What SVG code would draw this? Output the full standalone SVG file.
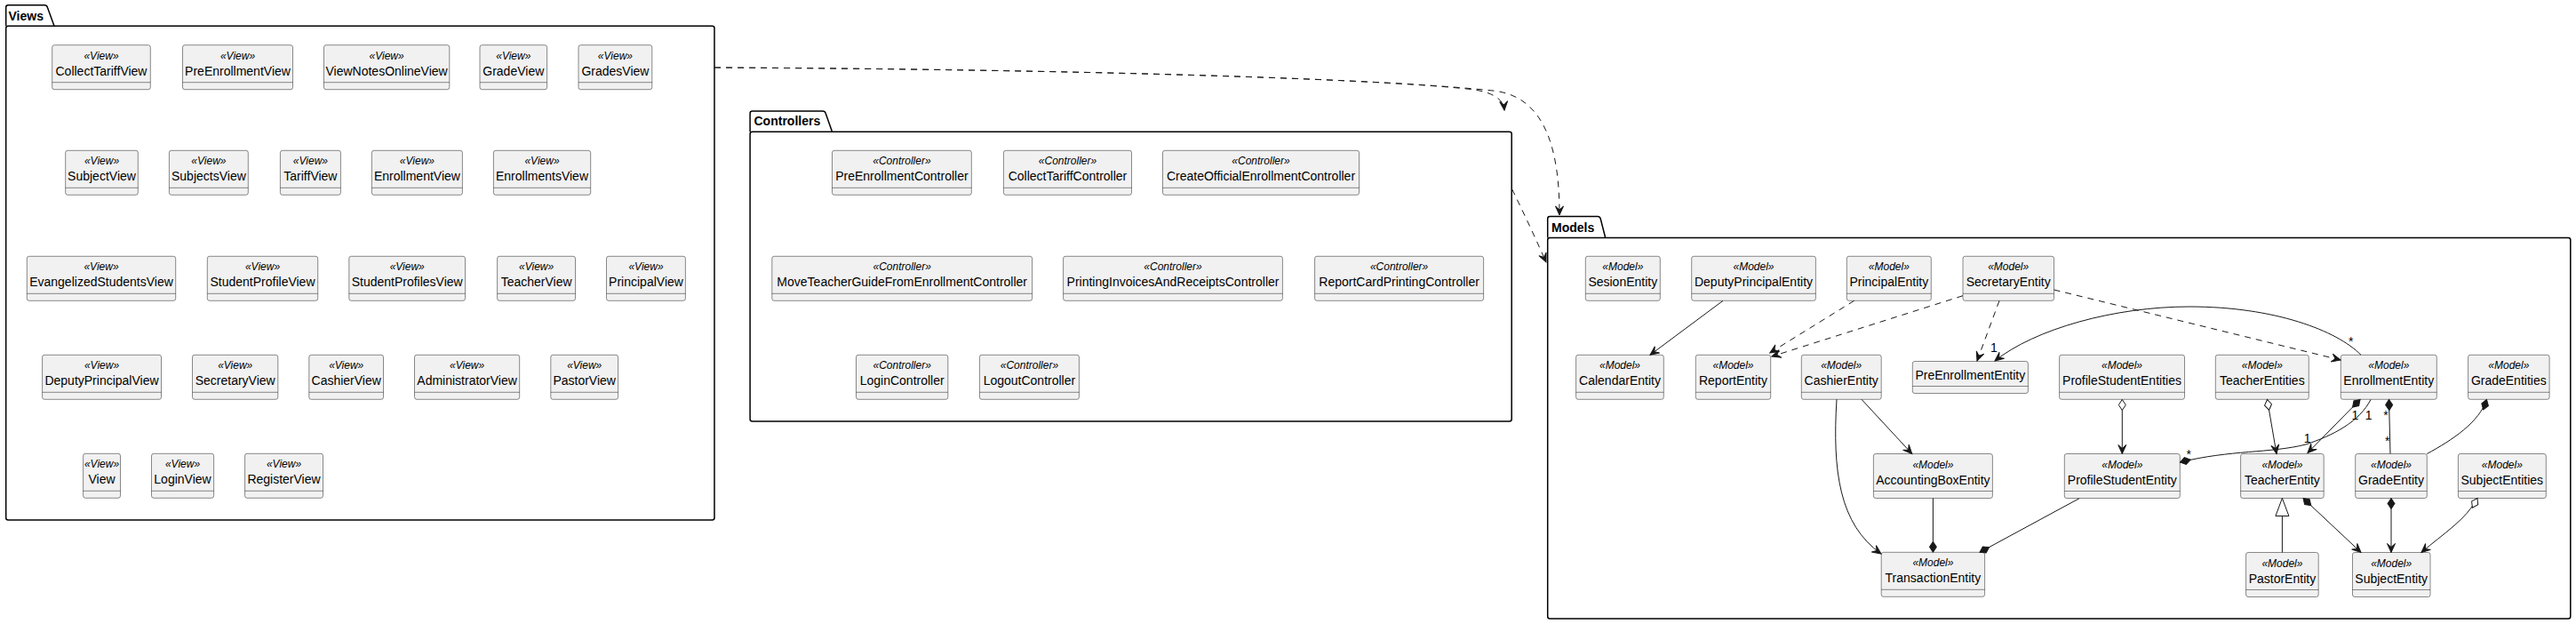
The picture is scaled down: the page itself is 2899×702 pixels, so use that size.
<svg xmlns="http://www.w3.org/2000/svg" width="2899" height="702" viewBox="0 0 2899 702">
<style>
.pk{fill:none;stroke:#000;stroke-width:1.5}
.pt{font-family:"Liberation Sans",Arial,sans-serif;font-size:14px;font-weight:bold;fill:#000}
.bx{fill:#F1F1F1;stroke:#181818;stroke-width:0.5}
.sp{stroke:#181818;stroke-width:0.5}
.st{font-family:"Liberation Sans",Arial,sans-serif;font-size:12px;font-style:italic;text-anchor:middle;fill:#000}
.nm{font-family:"Liberation Sans",Arial,sans-serif;font-size:14px;text-anchor:middle;fill:#000}
.lb{font-family:"Liberation Sans",Arial,sans-serif;font-size:14px;text-anchor:middle;fill:#000}
.c{fill:none;stroke:#181818;stroke-width:1}
.d{stroke-dasharray:7,6}
</style>
<defs>
<marker id="arr" markerUnits="userSpaceOnUse" viewBox="-12 -7 14 14" markerWidth="14" markerHeight="14" refX="0" refY="0" orient="auto-start-reverse"><path d="M0,0 L-10,-4.5 L-6,0 L-10,4.5 Z" fill="#181818" stroke="#181818" stroke-width="1" stroke-dasharray="none"/></marker>
<marker id="df" markerUnits="userSpaceOnUse" viewBox="-14 -6 16 12" markerWidth="16" markerHeight="12" refX="0" refY="0" orient="auto-start-reverse"><path d="M0,0 L-6,-4 L-12,0 L-6,4 Z" fill="#181818" stroke="#181818" stroke-width="1" stroke-dasharray="none"/></marker>
<marker id="dh" markerUnits="userSpaceOnUse" viewBox="-14 -6 16 12" markerWidth="16" markerHeight="12" refX="0" refY="0" orient="auto-start-reverse"><path d="M0,0 L-6,-4 L-12,0 L-6,4 Z" fill="#FFFFFF" stroke="#181818" stroke-width="1" stroke-dasharray="none"/></marker>
<marker id="tri" markerUnits="userSpaceOnUse" viewBox="-22 -9 24 18" markerWidth="24" markerHeight="18" refX="0" refY="0" orient="auto-start-reverse"><path d="M0,0 L-20,-7.5 L-20,7.5 Z" fill="#FFFFFF" stroke="#181818" stroke-width="1" stroke-dasharray="none"/></marker>
</defs>
<rect width="2899" height="702" fill="#FFFFFF"/>

<g id="pkg-Views">
<path class="pk" d="M6.7,29.3 L6.7,8.2 Q6.7,5.7 9.2,5.7 L50.2,5.7 Q52.7,5.7 53.4,8.2 L61,29.3"/>
<rect class="pk" x="6.7" y="29.3" width="797.3" height="555.7" rx="2.5"/>
<text class="pt" x="9.5" y="23">Views</text>
</g>
<g id="pkg-Controllers">
<path class="pk" d="M844.1,148.3 L844.1,127.5 Q844.1,125 846.6,125 L926,125 Q928.5,125 929.2,127.5 L936.5,148.3"/>
<rect class="pk" x="844.1" y="148.3" width="857.1" height="325.7" rx="2.5"/>
<text class="pt" x="848.5" y="141">Controllers</text>
</g>
<g id="pkg-Models">
<path class="pk" d="M1741.7,267.5 L1741.7,246 Q1741.7,243.5 1744.2,243.5 L1798,243.5 Q1800.5,243.5 1801.2,246 L1806.7,267.5"/>
<rect class="pk" x="1741.7" y="267.5" width="1151.1" height="428.5" rx="2.5"/>
<text class="pt" x="1746" y="261">Models</text>
</g>

<!-- Views nodes -->
<g id="CollectTariffView"><rect class="bx" x="58.7" y="50.7" width="110.6" height="50" rx="2.5"/><text class="st" x="114" y="66.7">«View»</text><text class="nm" x="114" y="84.7">CollectTariffView</text><line class="sp" x1="58.7" y1="92.7" x2="169.3" y2="92.7"/></g>
<g id="PreEnrollmentView"><rect class="bx" x="205.5" y="50.7" width="124" height="50" rx="2.5"/><text class="st" x="267.5" y="66.7">«View»</text><text class="nm" x="267.5" y="84.7">PreEnrollmentView</text><line class="sp" x1="205.5" y1="92.7" x2="329.5" y2="92.7"/></g>
<g id="ViewNotesOnlineView"><rect class="bx" x="364.5" y="50.7" width="141.3" height="50" rx="2.5"/><text class="st" x="435.1" y="66.7">«View»</text><text class="nm" x="435.1" y="84.7">ViewNotesOnlineView</text><line class="sp" x1="364.5" y1="92.7" x2="505.8" y2="92.7"/></g>
<g id="GradeView"><rect class="bx" x="540" y="50.7" width="75.6" height="50" rx="2.5"/><text class="st" x="577.8" y="66.7">«View»</text><text class="nm" x="577.8" y="84.7">GradeView</text><line class="sp" x1="540" y1="92.7" x2="615.6" y2="92.7"/></g>
<g id="GradesView"><rect class="bx" x="651" y="50.7" width="82.8" height="50" rx="2.5"/><text class="st" x="692.4" y="66.7">«View»</text><text class="nm" x="692.4" y="84.7">GradesView</text><line class="sp" x1="651" y1="92.7" x2="733.8" y2="92.7"/></g>

<g id="SubjectView"><rect class="bx" x="73.7" y="169.3" width="81.6" height="50" rx="2.5"/><text class="st" x="114.5" y="185.3">«View»</text><text class="nm" x="114.5" y="203.3">SubjectView</text><line class="sp" x1="73.7" y1="211.3" x2="155.3" y2="211.3"/></g>
<g id="SubjectsView"><rect class="bx" x="190.4" y="169.3" width="88.9" height="50" rx="2.5"/><text class="st" x="234.9" y="185.3">«View»</text><text class="nm" x="234.9" y="203.3">SubjectsView</text><line class="sp" x1="190.4" y1="211.3" x2="279.3" y2="211.3"/></g>
<g id="TariffView"><rect class="bx" x="315.4" y="169.3" width="68" height="50" rx="2.5"/><text class="st" x="349.4" y="185.3">«View»</text><text class="nm" x="349.4" y="203.3">TariffView</text><line class="sp" x1="315.4" y1="211.3" x2="383.4" y2="211.3"/></g>
<g id="EnrollmentView"><rect class="bx" x="418.4" y="169.3" width="102" height="50" rx="2.5"/><text class="st" x="469.4" y="185.3">«View»</text><text class="nm" x="469.4" y="203.3">EnrollmentView</text><line class="sp" x1="418.4" y1="211.3" x2="520.4" y2="211.3"/></g>
<g id="EnrollmentsView"><rect class="bx" x="555.4" y="169.3" width="109.3" height="50" rx="2.5"/><text class="st" x="610" y="185.3">«View»</text><text class="nm" x="610" y="203.3">EnrollmentsView</text><line class="sp" x1="555.4" y1="211.3" x2="664.7" y2="211.3"/></g>

<g id="EvangelizedStudentsView"><rect class="bx" x="30.3" y="288.3" width="167.4" height="50" rx="2.5"/><text class="st" x="114" y="304.3">«View»</text><text class="nm" x="114" y="322.3">EvangelizedStudentsView</text><line class="sp" x1="30.3" y1="330.3" x2="197.7" y2="330.3"/></g>
<g id="StudentProfileView"><rect class="bx" x="233.3" y="288.3" width="124.4" height="50" rx="2.5"/><text class="st" x="295.5" y="304.3">«View»</text><text class="nm" x="295.5" y="322.3">StudentProfileView</text><line class="sp" x1="233.3" y1="330.3" x2="357.7" y2="330.3"/></g>
<g id="StudentProfilesView"><rect class="bx" x="392.8" y="288.3" width="130.7" height="50" rx="2.5"/><text class="st" x="458.2" y="304.3">«View»</text><text class="nm" x="458.2" y="322.3">StudentProfilesView</text><line class="sp" x1="392.8" y1="330.3" x2="523.5" y2="330.3"/></g>
<g id="TeacherView"><rect class="bx" x="559.6" y="288.3" width="87.9" height="50" rx="2.5"/><text class="st" x="603.6" y="304.3">«View»</text><text class="nm" x="603.6" y="322.3">TeacherView</text><line class="sp" x1="559.6" y1="330.3" x2="647.5" y2="330.3"/></g>
<g id="PrincipalView"><rect class="bx" x="682.5" y="288.3" width="88.9" height="50" rx="2.5"/><text class="st" x="727" y="304.3">«View»</text><text class="nm" x="727" y="322.3">PrincipalView</text><line class="sp" x1="682.5" y1="330.3" x2="771.4" y2="330.3"/></g>

<g id="DeputyPrincipalView"><rect class="bx" x="47.6" y="399.3" width="133.9" height="50" rx="2.5"/><text class="st" x="114.5" y="415.3">«View»</text><text class="nm" x="114.5" y="433.3">DeputyPrincipalView</text><line class="sp" x1="47.6" y1="441.3" x2="181.5" y2="441.3"/></g>
<g id="SecretaryView"><rect class="bx" x="216.5" y="399.3" width="96.3" height="50" rx="2.5"/><text class="st" x="264.7" y="415.3">«View»</text><text class="nm" x="264.7" y="433.3">SecretaryView</text><line class="sp" x1="216.5" y1="441.3" x2="312.8" y2="441.3"/></g>
<g id="CashierView"><rect class="bx" x="347.8" y="399.3" width="83.7" height="50" rx="2.5"/><text class="st" x="389.7" y="415.3">«View»</text><text class="nm" x="389.7" y="433.3">CashierView</text><line class="sp" x1="347.8" y1="441.3" x2="431.5" y2="441.3"/></g>
<g id="AdministratorView"><rect class="bx" x="466.5" y="399.3" width="118.2" height="50" rx="2.5"/><text class="st" x="525.6" y="415.3">«View»</text><text class="nm" x="525.6" y="433.3">AdministratorView</text><line class="sp" x1="466.5" y1="441.3" x2="584.7" y2="441.3"/></g>
<g id="PastorView"><rect class="bx" x="619.8" y="399.3" width="75.8" height="50" rx="2.5"/><text class="st" x="657.7" y="415.3">«View»</text><text class="nm" x="657.7" y="433.3">PastorView</text><line class="sp" x1="619.8" y1="441.3" x2="695.6" y2="441.3"/></g>

<g id="View"><rect class="bx" x="93.6" y="510.3" width="41.9" height="50" rx="2.5"/><text class="st" x="114.5" y="526.3">«View»</text><text class="nm" x="114.5" y="544.3">View</text><line class="sp" x1="93.6" y1="552.3" x2="135.5" y2="552.3"/></g>
<g id="LoginView"><rect class="bx" x="170.5" y="510.3" width="70.1" height="50" rx="2.5"/><text class="st" x="205.5" y="526.3">«View»</text><text class="nm" x="205.5" y="544.3">LoginView</text><line class="sp" x1="170.5" y1="552.3" x2="240.6" y2="552.3"/></g>
<g id="RegisterView"><rect class="bx" x="275.6" y="510.3" width="87.9" height="50" rx="2.5"/><text class="st" x="319.5" y="526.3">«View»</text><text class="nm" x="319.5" y="544.3">RegisterView</text><line class="sp" x1="275.6" y1="552.3" x2="363.5" y2="552.3"/></g>

<!-- Controllers nodes -->
<g id="PreEnrollmentController"><rect class="bx" x="936.5" y="169.3" width="156.8" height="50" rx="2.5"/><text class="st" x="1014.9" y="185.3">«Controller»</text><text class="nm" x="1014.9" y="203.3">PreEnrollmentController</text><line class="sp" x1="936.5" y1="211.3" x2="1093.3" y2="211.3"/></g>
<g id="CollectTariffController"><rect class="bx" x="1129.4" y="169.3" width="144.1" height="50" rx="2.5"/><text class="st" x="1201.5" y="185.3">«Controller»</text><text class="nm" x="1201.5" y="203.3">CollectTariffController</text><line class="sp" x1="1129.4" y1="211.3" x2="1273.5" y2="211.3"/></g>
<g id="CreateOfficialEnrollmentController"><rect class="bx" x="1308.5" y="169.3" width="221" height="50" rx="2.5"/><text class="st" x="1419" y="185.3">«Controller»</text><text class="nm" x="1419" y="203.3">CreateOfficialEnrollmentController</text><line class="sp" x1="1308.5" y1="211.3" x2="1529.5" y2="211.3"/></g>
<g id="MoveTeacherGuideFromEnrollmentController"><rect class="bx" x="868.8" y="288.3" width="292.8" height="50" rx="2.5"/><text class="st" x="1015.2" y="304.3">«Controller»</text><text class="nm" x="1015.2" y="322.3">MoveTeacherGuideFromEnrollmentController</text><line class="sp" x1="868.8" y1="330.3" x2="1161.6" y2="330.3"/></g>
<g id="PrintingInvoicesAndReceiptsController"><rect class="bx" x="1196.6" y="288.3" width="246.8" height="50" rx="2.5"/><text class="st" x="1320" y="304.3">«Controller»</text><text class="nm" x="1320" y="322.3">PrintingInvoicesAndReceiptsController</text><line class="sp" x1="1196.6" y1="330.3" x2="1443.4" y2="330.3"/></g>
<g id="ReportCardPrintingController"><rect class="bx" x="1479.6" y="288.3" width="190" height="50" rx="2.5"/><text class="st" x="1574.6" y="304.3">«Controller»</text><text class="nm" x="1574.6" y="322.3">ReportCardPrintingController</text><line class="sp" x1="1479.6" y1="330.3" x2="1669.6" y2="330.3"/></g>
<g id="LoginController"><rect class="bx" x="963.5" y="399.3" width="103.3" height="50" rx="2.5"/><text class="st" x="1015.2" y="415.3">«Controller»</text><text class="nm" x="1015.2" y="433.3">LoginController</text><line class="sp" x1="963.5" y1="441.3" x2="1066.8" y2="441.3"/></g>
<g id="LogoutController"><rect class="bx" x="1102.4" y="399.3" width="112" height="50" rx="2.5"/><text class="st" x="1158.4" y="415.3">«Controller»</text><text class="nm" x="1158.4" y="433.3">LogoutController</text><line class="sp" x1="1102.4" y1="441.3" x2="1214.4" y2="441.3"/></g>

<!-- Models nodes -->
<g id="SesionEntity"><rect class="bx" x="1784.3" y="288.3" width="84" height="50" rx="2.5"/><text class="st" x="1826.3" y="304.3">«Model»</text><text class="nm" x="1826.3" y="322.3">SesionEntity</text><line class="sp" x1="1784.3" y1="330.3" x2="1868.3" y2="330.3"/></g>
<g id="DeputyPrincipalEntity"><rect class="bx" x="1903.7" y="288.3" width="139.7" height="50" rx="2.5"/><text class="st" x="1973.5" y="304.3">«Model»</text><text class="nm" x="1973.5" y="322.3">DeputyPrincipalEntity</text><line class="sp" x1="1903.7" y1="330.3" x2="2043.4" y2="330.3"/></g>
<g id="PrincipalEntity"><rect class="bx" x="2078.3" y="288.3" width="95" height="50" rx="2.5"/><text class="st" x="2125.8" y="304.3">«Model»</text><text class="nm" x="2125.8" y="322.3">PrincipalEntity</text><line class="sp" x1="2078.3" y1="330.3" x2="2173.3" y2="330.3"/></g>
<g id="SecretaryEntity"><rect class="bx" x="2209" y="288.3" width="102.5" height="50" rx="2.5"/><text class="st" x="2260.2" y="304.3">«Model»</text><text class="nm" x="2260.2" y="322.3">SecretaryEntity</text><line class="sp" x1="2209" y1="330.3" x2="2311.5" y2="330.3"/></g>

<g id="CalendarEntity"><rect class="bx" x="1773.6" y="399.3" width="98.7" height="50" rx="2.5"/><text class="st" x="1823" y="415.3">«Model»</text><text class="nm" x="1823" y="433.3">CalendarEntity</text><line class="sp" x1="1773.6" y1="441.3" x2="1872.3" y2="441.3"/></g>
<g id="ReportEntity"><rect class="bx" x="1908.3" y="399.3" width="84.4" height="50" rx="2.5"/><text class="st" x="1950.5" y="415.3">«Model»</text><text class="nm" x="1950.5" y="433.3">ReportEntity</text><line class="sp" x1="1908.3" y1="441.3" x2="1992.7" y2="441.3"/></g>
<g id="CashierEntity"><rect class="bx" x="2027.3" y="399.3" width="89.9" height="50" rx="2.5"/><text class="st" x="2072.2" y="415.3">«Model»</text><text class="nm" x="2072.2" y="433.3">CashierEntity</text><line class="sp" x1="2027.3" y1="441.3" x2="2117.2" y2="441.3"/></g>
<g id="PreEnrollmentEntity"><rect class="bx" x="2152.3" y="406.5" width="130.1" height="36" rx="2.5"/><text class="nm" x="2217.3" y="426.5">PreEnrollmentEntity</text><line class="sp" x1="2152.3" y1="434.5" x2="2282.4" y2="434.5"/></g>
<g id="ProfileStudentEntities"><rect class="bx" x="2317.6" y="399.3" width="140.9" height="50" rx="2.5"/><text class="st" x="2388" y="415.3">«Model»</text><text class="nm" x="2388" y="433.3">ProfileStudentEntities</text><line class="sp" x1="2317.6" y1="441.3" x2="2458.5" y2="441.3"/></g>
<g id="TeacherEntities"><rect class="bx" x="2493.3" y="399.3" width="105" height="50" rx="2.5"/><text class="st" x="2545.8" y="415.3">«Model»</text><text class="nm" x="2545.8" y="433.3">TeacherEntities</text><line class="sp" x1="2493.3" y1="441.3" x2="2598.3" y2="441.3"/></g>
<g id="EnrollmentEntity"><rect class="bx" x="2634.3" y="399.3" width="108" height="50" rx="2.5"/><text class="st" x="2688.3" y="415.3">«Model»</text><text class="nm" x="2688.3" y="433.3">EnrollmentEntity</text><line class="sp" x1="2634.3" y1="441.3" x2="2742.3" y2="441.3"/></g>
<g id="GradeEntities"><rect class="bx" x="2777.6" y="399.3" width="91.5" height="50" rx="2.5"/><text class="st" x="2823.3" y="415.3">«Model»</text><text class="nm" x="2823.3" y="433.3">GradeEntities</text><line class="sp" x1="2777.6" y1="441.3" x2="2869.1" y2="441.3"/></g>

<g id="AccountingBoxEntity"><rect class="bx" x="2108.4" y="510.5" width="134" height="50" rx="2.5"/><text class="st" x="2175.4" y="526.5">«Model»</text><text class="nm" x="2175.4" y="544.5">AccountingBoxEntity</text><line class="sp" x1="2108.4" y1="552.5" x2="2242.4" y2="552.5"/></g>
<g id="ProfileStudentEntity"><rect class="bx" x="2323.3" y="510.5" width="130" height="50" rx="2.5"/><text class="st" x="2388.3" y="526.5">«Model»</text><text class="nm" x="2388.3" y="544.5">ProfileStudentEntity</text><line class="sp" x1="2323.3" y1="552.5" x2="2453.3" y2="552.5"/></g>
<g id="TeacherEntity"><rect class="bx" x="2521.6" y="510.5" width="93.6" height="50" rx="2.5"/><text class="st" x="2568.4" y="526.5">«Model»</text><text class="nm" x="2568.4" y="544.5">TeacherEntity</text><line class="sp" x1="2521.6" y1="552.5" x2="2615.2" y2="552.5"/></g>
<g id="GradeEntity"><rect class="bx" x="2650.7" y="510.5" width="80.6" height="50" rx="2.5"/><text class="st" x="2691" y="526.5">«Model»</text><text class="nm" x="2691" y="544.5">GradeEntity</text><line class="sp" x1="2650.7" y1="552.5" x2="2731.3" y2="552.5"/></g>
<g id="SubjectEntities"><rect class="bx" x="2766.4" y="510.5" width="98.9" height="50" rx="2.5"/><text class="st" x="2815.8" y="526.5">«Model»</text><text class="nm" x="2815.8" y="544.5">SubjectEntities</text><line class="sp" x1="2766.4" y1="552.5" x2="2865.3" y2="552.5"/></g>

<g id="TransactionEntity"><rect class="bx" x="2117.2" y="621.3" width="116.4" height="50" rx="2.5"/><text class="st" x="2175.4" y="637.3">«Model»</text><text class="nm" x="2175.4" y="655.3">TransactionEntity</text><line class="sp" x1="2117.2" y1="663.3" x2="2233.6" y2="663.3"/></g>
<g id="PastorEntity"><rect class="bx" x="2527.6" y="621.5" width="81.6" height="50" rx="2.5"/><text class="st" x="2568.4" y="637.5">«Model»</text><text class="nm" x="2568.4" y="655.5">PastorEntity</text><line class="sp" x1="2527.6" y1="663.5" x2="2609.2" y2="663.5"/></g>
<g id="SubjectEntity"><rect class="bx" x="2647.5" y="621.5" width="87.5" height="50" rx="2.5"/><text class="st" x="2691.2" y="637.5">«Model»</text><text class="nm" x="2691.2" y="655.5">SubjectEntity</text><line class="sp" x1="2647.5" y1="663.5" x2="2735" y2="663.5"/></g>

<g id="connectors">
<path class="c d" d="M804,76 C1200,78 1550,88 1660,101 C1682,105 1692,112 1693,124" marker-end="url(#arr)"/>
<path class="c d" d="M804,76 C1200,78 1550,88 1680,102 C1740,108 1755,170 1755,242" marker-end="url(#arr)"/>
<path class="c d" d="M1701.7,213 C1715,240 1728,268 1740,295" marker-end="url(#arr)"/>

<path class="c" d="M1939,338.3 L1857,399.3" marker-end="url(#arr)"/>
<path class="c d" d="M2086.7,338.3 L1991.7,397" marker-end="url(#arr)"/>
<path class="c d" d="M2209,332.7 L1994,401" marker-end="url(#arr)"/>
<path class="c d" d="M2250,338.3 L2225,406" marker-end="url(#arr)"/>
<path class="c d" d="M2311.5,326 L2634,405" marker-end="url(#arr)"/>
<path class="c" d="M2657,399.3 C2630,372 2560,345 2464,345 C2380,345 2290,370 2245,406" marker-end="url(#arr)"/>
<path class="c" d="M2656,449.5 L2597,509.5" marker-start="url(#df)" marker-end="url(#arr)"/>
<path class="c" d="M2668,449.5 C2655,475 2625,490 2595,500 C2555,510 2510,506 2453.5,520" marker-end="url(#df)"/>
<path class="c" d="M2688.5,449.5 L2690,510.5" marker-start="url(#df)"/>
<path class="c" d="M2798.5,449.5 C2790,475 2760,495 2731.3,510.5" marker-start="url(#df)"/>
<path class="c" d="M2388.3,449.5 L2388.3,510.5" marker-start="url(#dh)" marker-end="url(#arr)"/>
<path class="c" d="M2551.5,449.5 L2562,510.5" marker-start="url(#dh)" marker-end="url(#arr)"/>
<path class="c" d="M2568.4,621.5 L2568.4,560.5" marker-end="url(#tri)"/>
<path class="c" d="M2592,560.5 L2657,621.5" marker-start="url(#df)" marker-end="url(#arr)"/>
<path class="c" d="M2691,560.5 L2691,621.5" marker-start="url(#df)" marker-end="url(#arr)"/>
<path class="c" d="M2788,560.5 C2775,585 2750,600 2725,621.5" marker-start="url(#dh)" marker-end="url(#arr)"/>
<path class="c" d="M2340,560.7 L2228,621.3" marker-end="url(#df)"/>
<path class="c" d="M2175.4,560.5 L2175.4,621.3" marker-end="url(#df)"/>
<path class="c" d="M2095,449.3 L2151.7,510.5" marker-end="url(#arr)"/>
<path class="c" d="M2067,449.3 C2062,530 2070,590 2117,623" marker-end="url(#arr)"/>

<text class="lb" x="2645.7" y="388.5">*</text>
<text class="lb" x="2244" y="396">1</text>
<text class="lb" x="2650.5" y="471.7">1</text>
<text class="lb" x="2665.7" y="471.7">1</text>
<text class="lb" x="2596.7" y="498.3">1</text>
<text class="lb" x="2463.3" y="516">*</text>
<text class="lb" x="2685" y="472">*</text>
<text class="lb" x="2686.7" y="500.5">*</text>
</g>
</svg>
